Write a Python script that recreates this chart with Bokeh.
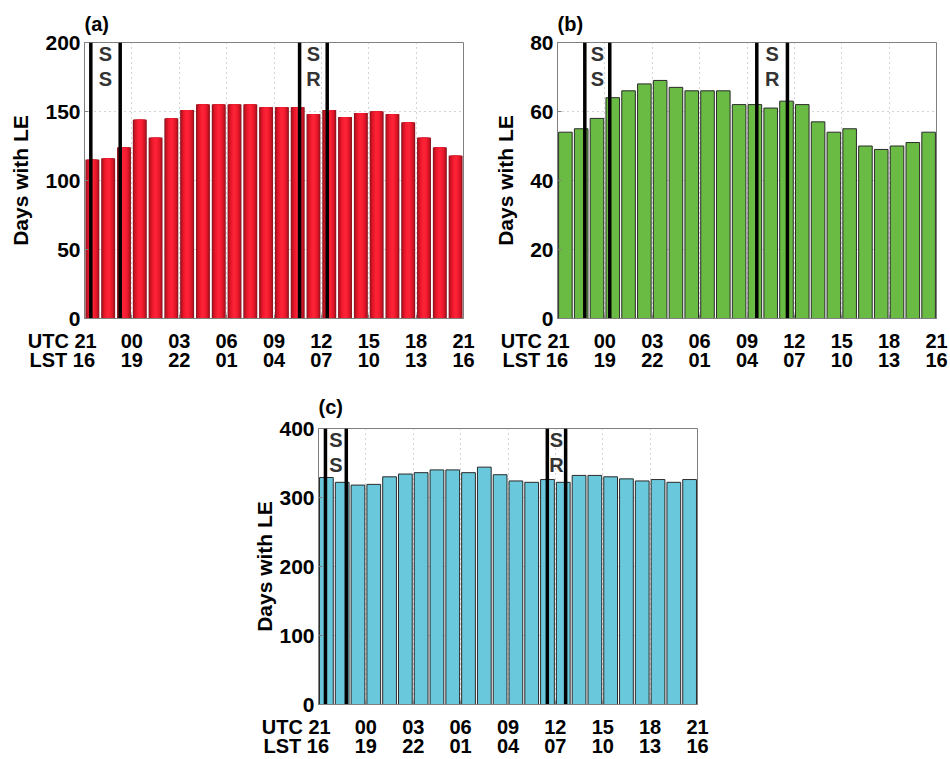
from bokeh.plotting import figure
from bokeh.models import Range1d, FixedTicker, LinearAxis, Label, Spacer, ColumnDataSource
from bokeh.layouts import column, row
from bokeh.embed import file_html
from bokeh.resources import INLINE

# ---------------- data ----------------
hours = list(range(24))                      # hour bins starting at 21 UTC
tick_pos = [0, 3, 6, 9, 12, 15, 18, 21, 24]
utc_labels = ["21", "00", "03", "06", "09", "12", "15", "18", "21"]
lst_labels = ["16", "19", "22", "01", "04", "07", "10", "13", "16"]
row_names = ["UTC", "LST"]

days_a = [115, 116, 124, 144, 131, 145, 151, 155, 155, 155, 155, 153,
          153, 153, 148, 151, 146, 149, 150, 148, 142, 131, 124, 118]
days_b = [54, 55, 58, 64, 66, 68, 69, 67, 66, 66, 66, 62,
          62, 61, 63, 62, 57, 54, 55, 50, 49, 50, 51, 54]
days_c = [329, 322, 318, 319, 330, 334, 336, 340, 340, 336, 344, 333,
          324, 322, 326, 322, 332, 332, 330, 327, 324, 326, 322, 326]

# sunset / sunrise range lines (hours after 21 UTC)
ss_a = [0.40, 2.26]
sr_a = [13.62, 15.37]
ss_b = [1.73, 3.31]
sr_b = [12.62, 14.56]
ss_c = [0.44, 1.76]
sr_c = [14.49, 15.65]

yticks_a = [0, 50, 100, 150, 200]
yticks_b = [0, 20, 40, 60, 80]
yticks_c = [0, 100, 200, 300, 400]

FONT = "Liberation Sans"
XFS = "20px"
YFS = "21px"
PAD = "\u2007" * 4   # keeps the first tick value centred on its tick


def first_label(labels, name):
    out = dict(zip(tick_pos, labels))
    out[tick_pos[0]] = name + " " + labels[0] + PAD
    return out


def make_panel(values, ymax, yticks, ss, sr, title, w, h, bl, br, bt, bb,
               kind, title_standoff, ylabel_standoff):
    p = figure(width=w, height=h, x_range=Range1d(0, 24), y_range=Range1d(0, ymax),
               output_backend="svg", toolbar_location=None,
               min_border_left=bl, min_border_right=br,
               min_border_top=bt, min_border_bottom=bb)
    p.background_fill_color = "white"
    p.border_fill_color = "white"
    p.outline_line_color = "#808080"
    p.outline_line_width = 1

    p.title.text = title
    p.title.align = "left"
    p.title.text_font = FONT
    p.title.text_font_style = "bold"
    p.title.text_font_size = "20px"
    p.title.text_color = "black"
    p.title.standoff = title_standoff
    p.title.offset = 0

    # grids
    p.xgrid.ticker = FixedTicker(ticks=tick_pos)
    p.ygrid.ticker = FixedTicker(ticks=yticks)
    for g in (p.xgrid, p.ygrid):
        g.grid_line_color = "#a8a8a8"
        g.grid_line_dash = "1 4"
        g.grid_line_width = 1

    # y axis
    ya = p.yaxis[0]
    ya.ticker = FixedTicker(ticks=yticks)
    ya.axis_label = "Days with LE"
    ya.axis_label_text_font = FONT
    ya.axis_label_text_font_style = "bold"
    ya.axis_label_text_font_size = "21px"
    ya.axis_label_text_color = "black"
    ya.axis_label_standoff = ylabel_standoff
    ya.major_label_text_font = FONT
    ya.major_label_text_font_style = "bold"
    ya.major_label_text_font_size = YFS
    ya.major_label_text_color = "black"
    ya.major_label_standoff = 4
    ya.major_tick_in = 4
    ya.major_tick_out = 0
    ya.minor_tick_in = 0
    ya.minor_tick_out = 0
    ya.axis_line_color = "#808080"
    ya.major_tick_line_color = "#808080"

    # x axis: UTC row
    xa = p.xaxis[0]
    xa.ticker = FixedTicker(ticks=tick_pos)
    xa.major_label_overrides = first_label(utc_labels, row_names[0])
    xa.major_label_text_font = FONT
    xa.major_label_text_font_style = "bold"
    xa.major_label_text_font_size = XFS
    xa.major_label_text_color = "black"
    xa.major_label_standoff = 11
    xa.major_tick_in = 4
    xa.major_tick_out = 0
    xa.minor_tick_in = 0
    xa.minor_tick_out = 0
    xa.axis_line_color = "#808080"
    xa.major_tick_line_color = "#808080"

    # x axis: LST row
    xb = LinearAxis(ticker=FixedTicker(ticks=tick_pos),
                    major_label_overrides=first_label(lst_labels, row_names[1]))
    xb.major_label_text_font = FONT
    xb.major_label_text_font_style = "bold"
    xb.major_label_text_font_size = XFS
    xb.major_label_text_color = "black"
    xb.major_label_standoff = -6
    xb.major_tick_in = 0
    xb.major_tick_out = 0
    xb.minor_tick_in = 0
    xb.minor_tick_out = 0
    xb.axis_line_color = None
    xb.major_tick_line_color = None
    p.add_layout(xb, "below")

    src = ColumnDataSource(dict(x=[hr + 0.5 for hr in hours], top=values))
    if kind == "red":
        layers = [(0.88, "#861823"), (0.82, "#a0131f"), (0.74, "#bb1423"),
                  (0.64, "#d31526"), (0.52, "#e6182a"), (0.38, "#f21b2f"),
                  (0.22, "#fb2236")]
        for wdt, col in layers:
            p.vbar(x="x", top="top", bottom=0, width=wdt, source=src,
                   fill_color=col, line_color=None)
    elif kind == "green":
        p.vbar(x="x", top="top", bottom=0, width=0.86, source=src,
               fill_color="#6abb44", line_color="#2a2a2a", line_width=1)
    else:
        p.vbar(x="x", top="top", bottom=0, width=0.87, source=src,
               fill_color="#6ac8dc", line_color="#2a2a2a", line_width=1)

    xs = ss + sr
    p.segment(x0=xs, y0=[0] * len(xs), x1=xs, y1=[ymax] * len(xs),
              line_color="black", line_width=3.5)

    fh = h - bt - bb
    for pair, letters in ((ss, ("S", "S")), (sr, ("S", "R"))):
        mid = (pair[0] + pair[1]) / 2.0
        for dy, ch in zip((11, 36), letters):
            p.add_layout(Label(x=mid, x_units="data", y=fh - dy, y_units="screen",
                               text=ch, text_align="center", text_baseline="middle",
                               text_font=FONT, text_font_size="20px",
                               text_font_style="bold", text_color="#333333"))
    return p


pa = make_panel(days_a, 200, yticks_a, ss_a, sr_a, "(a)", 480, 380,
                84, 17, 42, 62, "red", 15, 10)
pb = make_panel(days_b, 80, yticks_b, ss_b, sr_b, "(b)", 470, 380,
                77, 14, 42, 62, "green", 15, 10)
pc = make_panel(days_c, 400, yticks_c, ss_c, sr_c, "(c)", 480, 379,
                84, 17, 48, 55, "cyan", 22, 0)

layout = column(row(pa, pb), row(Spacer(width=234, height=379), pc))

open("out.html", "w").write(file_html(layout, INLINE))
